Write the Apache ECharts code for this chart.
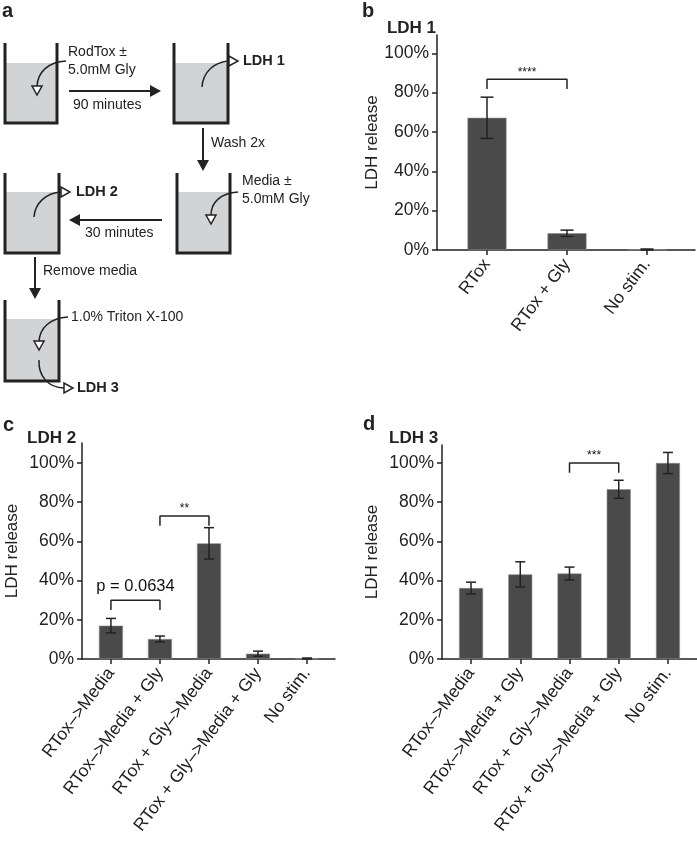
<!DOCTYPE html>
<html>
<head>
<meta charset="utf-8">
<script src="https://cdn.jsdelivr.net/npm/echarts@6/dist/echarts.min.js"></script>
<style>
html,body{margin:0;padding:0;background:#fff;}
#chart{width:697px;height:848px;}
</style>
</head>
<body>
<div id="chart"></div>
<script>
// ---- Data ----
const catsB = ['RTox', 'RTox + Gly', 'No stim.'];
const valsB = [67.2, 8.5, 0.2];
const errB  = [10.5, 1.6, 0.3];

const catsC = ['RTox\u2013>Media', 'RTox\u2013>Media + Gly', 'RTox + Gly\u2013>Media', 'RTox + Gly\u2013>Media + Gly', 'No stim.'];
const valsC = [17.0, 10.2, 59.0, 2.7, 0.2];
const errC  = [3.7, 1.5, 8.0, 1.3, 0.3];

const catsD = ['RTox\u2013>Media', 'RTox\u2013>Media + Gly', 'RTox + Gly\u2013>Media', 'RTox + Gly\u2013>Media + Gly', 'No stim.'];
const valsD = [36.2, 43.2, 43.6, 86.6, 100.0];
const errD  = [3.0, 6.4, 3.3, 4.6, 5.4];

const yTicks = [0, 20, 40, 60, 80, 100];

// significance brackets: [fromIndex, toIndex, height, label]
const bracketsB = [[0, 1, 86.8, '****']];
const bracketsC = [[0, 1, 30, 'p = 0.0634'], [1, 2, 73, '**']];
const bracketsD = [[2, 3, 100, '***']];

// ---- Styles ----
const FONT = 'Liberation Sans, Arial, Helvetica, sans-serif';
const INK = '#222';
const BAR = '#4a4a4a';

function xAxisFor(gi, cats, min, max) {
  const idx = cats.map((c, i) => i);
  return {
    type: 'value', gridIndex: gi, min: min, max: max,
    splitLine: {show: false},
    axisLine: {show: true, onZero: false, lineStyle: {color: INK, width: 1.5}},
    axisTick: {show: true, length: 5, lineStyle: {color: INK, width: 1.5}, customValues: idx},
    axisLabel: {
      customValues: idx, rotate: 53, margin: 11, color: INK,
      fontFamily: FONT, fontSize: 17.5,
      formatter: v => cats[Math.round(v)]
    }
  };
}
function yAxisFor(gi, max, gap) {
  return {
    type: 'value', gridIndex: gi, min: 0, max: max,
    name: 'LDH release', nameLocation: 'middle', nameGap: gap, nameRotate: 90,
    nameTextStyle: {fontFamily: FONT, fontSize: 17, color: INK},
    splitLine: {show: false},
    axisLine: {show: true, onZero: false, lineStyle: {color: INK, width: 1.5}},
    axisTick: {show: true, length: 5, lineStyle: {color: INK, width: 1.5}, customValues: yTicks},
    axisLabel: {customValues: yTicks, margin: 8, color: INK, fontFamily: FONT, fontSize: 17.5,
      formatter: v => v + '%'}
  };
}
function barSeries(gi, vals, w) {
  return {
    type: 'bar', xAxisIndex: gi, yAxisIndex: gi, barWidth: w,
    itemStyle: {color: BAR, borderColor: '#8a8a8a', borderWidth: 0.6},
    data: vals.map((v, i) => [i, v]), silent: true
  };
}
function errSeries(gi, vals, errs, cap) {
  return {
    type: 'custom', xAxisIndex: gi, yAxisIndex: gi, silent: true, z: 5,
    data: vals.map((v, i) => [i, Math.max(0, v - errs[i]), v + errs[i]]),
    renderItem: function (params, api) {
      const x = api.value(0);
      const pLo = api.coord([x, api.value(1)]);
      const pHi = api.coord([x, api.value(2)]);
      const st = {stroke: INK, lineWidth: 1.5};
      return {type: 'group', children: [
        {type: 'line', shape: {x1: pHi[0], y1: pHi[1], x2: pLo[0], y2: pLo[1]}, style: st},
        {type: 'line', shape: {x1: pHi[0] - cap, y1: pHi[1], x2: pHi[0] + cap, y2: pHi[1]}, style: st},
        {type: 'line', shape: {x1: pLo[0] - cap, y1: pLo[1], x2: pLo[0] + cap, y2: pLo[1]}, style: st}
      ]};
    }
  };
}
function bracketSeries(gi, brackets) {
  const out = [];
  brackets.forEach(b => {
    out.push({
      type: 'line', xAxisIndex: gi, yAxisIndex: gi, silent: true, symbol: 'none',
      lineStyle: {color: INK, width: 1.5},
      data: [[b[0], b[2] - 5], [b[0], b[2]], [b[1], b[2]], [b[1], b[2] - 5]]
    });
    const isStar = /^\*+$/.test(b[3]);
    out.push({
      type: 'scatter', xAxisIndex: gi, yAxisIndex: gi, silent: true, symbolSize: 0,
      itemStyle: {opacity: 1},
      data: [[(b[0] + b[1]) / 2, b[2]]],
      label: {show: true, position: 'top', distance: isStar ? 1 : 5, formatter: b[3],
        fontFamily: FONT, fontSize: isStar ? 12 : 16.5, color: '#111', opacity: 1}
    });
  });
  return out;
}

// ---- Diagram (panel a) ----
const G = [];
const txt = (t, x, y, size, bold, align) => G.push({type: 'text', style: {text: t, x: x, y: y,
  fontFamily: FONT, fontSize: size, fontWeight: bold ? 'bold' : 'normal', fill: INK,
  align: align || 'left', verticalAlign: 'middle'}});
function beaker(x0, x1, top, bottom, liq) {
  G.push({type: 'rect', shape: {x: x0, y: liq, width: x1 - x0, height: bottom - liq}, style: {fill: '#d1d3d4'}});
  G.push({type: 'polyline', shape: {points: [[x0, top], [x0, bottom], [x1, bottom], [x1, top]]},
    style: {stroke: INK, lineWidth: 3, fill: null}});
}
function curve(x1, y1, c1x, c1y, c2x, c2y, x2, y2) {
  G.push({type: 'bezierCurve', shape: {x1: x1, y1: y1, cpx1: c1x, cpy1: c1y, cpx2: c2x, cpy2: c2y, x2: x2, y2: y2},
    style: {stroke: INK, lineWidth: 1.5, fill: null}});
}
function openTri(pts) {
  G.push({type: 'polygon', shape: {points: pts}, style: {stroke: INK, lineWidth: 1.5, fill: '#fff'}});
}
function arrow(x1, y1, x2, y2, head) {
  G.push({type: 'line', shape: {x1: x1, y1: y1, x2: x2, y2: y2}, style: {stroke: INK, lineWidth: 2}});
  G.push({type: 'polygon', shape: {points: head}, style: {fill: INK}});
}

txt('a', 2, 11, 20, true);
txt('b', 362, 11, 20, true);
txt('c', 3, 425, 20, true);
txt('d', 363, 424, 20, true);
txt('LDH 1', 436, 28, 17, true, 'right');
txt('LDH 2', 27, 438, 17, true);
txt('LDH 3', 389, 438, 17, true);

// beaker 1
beaker(5, 57, 43, 123, 63);
curve(66, 61, 48, 62, 38, 72, 37, 86);
openTri([[32, 86], [42, 86], [37, 95]]);
txt('RodTox \u00b1', 68, 52, 14);
txt('5.0mM Gly', 68, 70, 14);
arrow(69, 91, 152, 91, [[150, 85], [161, 91], [150, 97]]);
txt('90 minutes', 73, 105, 14);
// beaker 2
beaker(174, 228, 43, 123, 63);
curve(202, 87, 203, 72, 214, 62, 229, 61);
openTri([[229, 56], [229, 66], [238, 61]]);
txt('LDH 1', 243, 61, 14.5, true);
arrow(203, 128, 203, 162, [[197, 160], [209, 160], [203, 171]]);
txt('Wash 2x', 211, 143, 14);
// beaker 3
beaker(177, 230, 173, 253, 192);
curve(238, 192, 220, 193, 211, 203, 211, 215);
openTri([[206, 215], [216, 215], [211, 224]]);
txt('Media \u00b1', 242, 181, 14);
txt('5.0mM Gly', 242, 199, 14);
arrow(162, 220, 78, 220, [[80, 214], [69, 220], [80, 226]]);
txt('30 minutes', 85, 233, 14);
// beaker 4
beaker(5, 59, 173, 253, 192);
curve(34, 217, 35, 203, 46, 193, 61, 192);
openTri([[61, 187], [61, 197], [70, 192]]);
txt('LDH 2', 76, 192, 14.5, true);
arrow(35, 257, 35, 290, [[29, 288], [41, 288], [35, 299]]);
txt('Remove media', 43, 271, 14);
// beaker 5
beaker(5, 59, 300, 381, 319);
curve(68, 317, 50, 318, 40, 328, 39, 341);
openTri([[34, 341], [44, 341], [39, 350]]);
txt('1.0% Triton X-100', 71, 317, 14);
curve(39, 360, 38, 375, 48, 388, 64, 388);
openTri([[64, 383], [64, 393], [73, 388]]);
txt('LDH 3', 77, 388, 14.5, true);

// ---- Chart ----
const chart = echarts.init(document.getElementById('chart'), null, {renderer: 'canvas'});
const option = {
  animation: false,
  backgroundColor: '#fff',
  grid: [
    {left: 437, top: 35, width: 258, height: 215},
    {left: 82, top: 443, width: 253, height: 216},
    {left: 442, top: 445, width: 255, height: 214}
  ],
  xAxis: [
    xAxisFor(0, catsB, -0.625, 2.6),
    xAxisFor(1, catsC, -0.59, 4.57),
    xAxisFor(2, catsD, -0.59, 4.59)
  ],
  yAxis: [
    yAxisFor(0, 109.3, 56),
    yAxisFor(1, 110.2, 61),
    yAxisFor(2, 109.2, 61)
  ],
  series: [
    barSeries(0, valsB, 39), errSeries(0, valsB, errB, 6.5),
    barSeries(1, valsC, 24), errSeries(1, valsC, errC, 5),
    barSeries(2, valsD, 24), errSeries(2, valsD, errD, 5),
    ...bracketSeries(0, bracketsB),
    ...bracketSeries(1, bracketsC),
    ...bracketSeries(2, bracketsD)
  ],
  graphic: G
};
chart.setOption(option);
</script>
</body>
</html>
